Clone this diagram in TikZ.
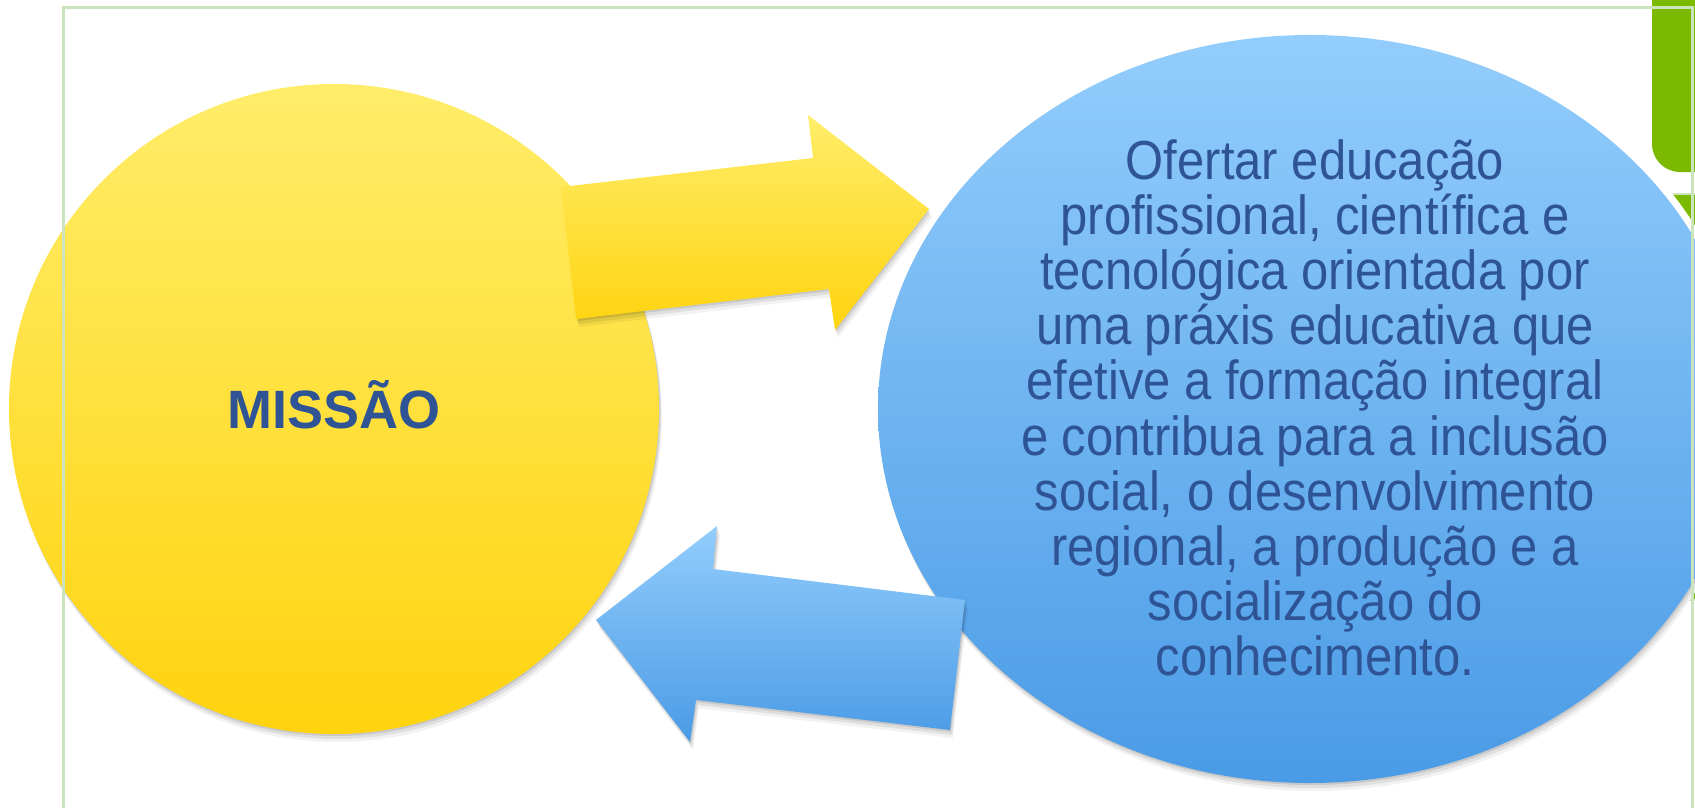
\documentclass[tikz,border=0pt]{standalone}
\usepackage{fontspec}
\setmainfont{Liberation Sans}
\newfontfamily\estreita[FakeStretch=0.89]{Liberation Sans}
\usetikzlibrary{positioning,shapes.geometric,shadows}

\definecolor{amareloclaro}{HTML}{FFED6A}
\definecolor{amareloescuro}{HTML}{FFD30E}
\definecolor{azulclaro}{HTML}{93CDFC}
\definecolor{azulescuro}{HTML}{4A9BE6}
\definecolor{textoazul}{HTML}{2F5496}
\definecolor{verde}{HTML}{7BBA00}
\definecolor{moldura}{HTML}{CCE4BE}

\tikzset{
  sombra/.style={
    drop shadow={shadow xshift=1bp,shadow yshift=-2bp,opacity=.10,fill=black},
    drop shadow={shadow xshift=2bp,shadow yshift=-5bp,opacity=.08,fill=black},
    drop shadow={shadow xshift=3bp,shadow yshift=-8bp,opacity=.05,fill=black}},
  amarelo/.style={top color=amareloclaro,bottom color=amareloescuro},
  azul/.style={top color=azulclaro,bottom color=azulescuro},
  seta/.style={sombra},
}

\begin{document}
\begin{tikzpicture}[x=1bp,y=-1bp]
  \useasboundingbox (0,0) rectangle (1695,808);
  \clip (0,0) rectangle (1695,808);

  % forma verde no canto
  \fill[verde,rounded corners=28bp] (1652,-40) rectangle (1760,172);
  \filldraw[fill=verde,draw=moldura,line width=2bp] (1667,194) rectangle (1760,600);

  % circulo e elipse
  \node[circle,minimum size=650bp,inner sep=0pt,amarelo,sombra,
        text=textoazul,font=\bfseries\fontsize{54bp}{60bp}\selectfont,
        text height=38.7bp,text depth=0pt] (missao) at (334,409) {MISSÃO};
  \node[ellipse,minimum width=878bp,minimum height=762bp,fill=white] (halo) at (1310,409) {};
  \node[ellipse,minimum width=864bp,minimum height=748bp,inner sep=0pt,azul,sombra] (oferta) at (1310,409) {};
  \node[anchor=north,align=center,text=textoazul,inner sep=0pt,
        font=\estreita\fontsize{55bp}{55.2bp}\selectfont] (texto) at (1315,139)
    {Ofertar educação\\
     profissional, científica e\\
     tecnológica orientada por\\
     uma práxis educativa que\\
     efetive a formação integral\\
     e contribua para a inclusão\\
     social, o desenvolvimento\\
     regional, a produção e a\\
     socialização do\\
     conhecimento.};

  % setas
  \path[seta,amarelo] (561,187) -- (813,158) -- (808,115) -- (929,209)
    -- (835,330) -- (829,289) -- (576,319) -- cycle;
  \path[seta,azul] (965,600) -- (713,569) -- (717,526) -- (596,620)
    -- (690,742) -- (696,700) -- (950,730) -- cycle;

  % moldura
  \draw[moldura,line width=3bp] (63,830) -- (63,8) -- (1692,8) -- (1692,830);
\end{tikzpicture}
\end{document}
